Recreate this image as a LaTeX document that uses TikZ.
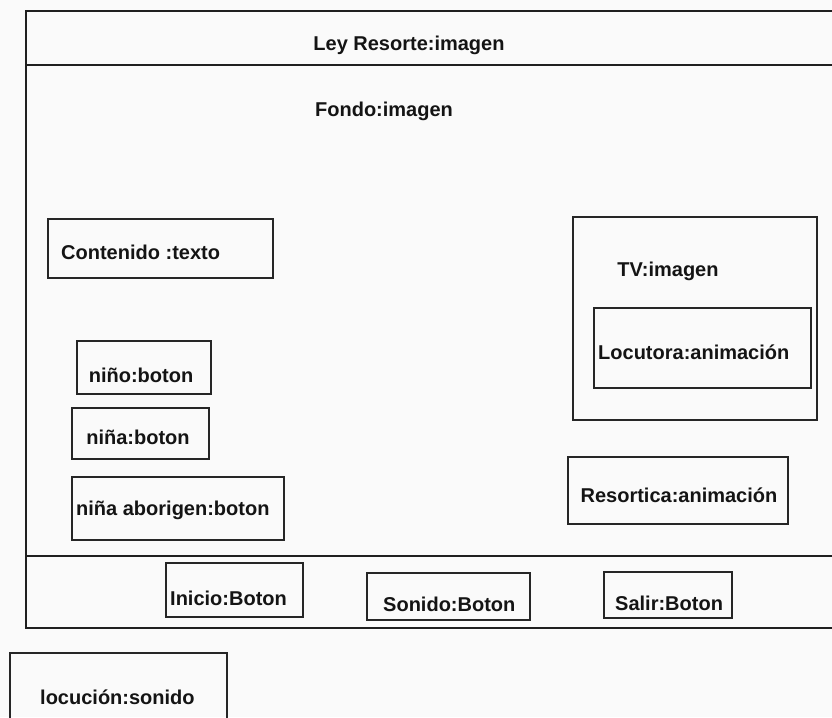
\documentclass[tikz,border=0pt]{standalone}
\usepackage{fontspec}
\setmainfont{Liberation Sans}
\begin{document}
\begin{tikzpicture}[x=1pt,y=-1pt,
  frameline/.style={draw=black!88, line width=2.6pt},
  boxline/.style={draw=black!85, line width=2.3pt},
  lbl/.style={inner sep=0pt, font=\fontsize{20}{24}\selectfont\bfseries, text=black!92}]
  % canvas
  \fill[black!2] (0,0) rectangle (832,717);
  \useasboundingbox (0,0) rectangle (832,717);

  % screen frame with header and footer bands
  \draw[frameline] (26,11) rectangle (840,628);
  \draw[frameline] (26,65) -- (840,65);
  \draw[frameline] (26,556) -- (840,556);

  % header and background
  \node[lbl, anchor=base] (ley) at (409,51) {Ley Resorte:imagen};
  \node[lbl, anchor=base] (fondo) at (384,116) {Fondo:imagen};

  % content text box
  \draw[boxline] (48,219) rectangle (273,278);
  \node[lbl, anchor=base west] (contenido) at (61,259) {Contenido :texto};

  % character buttons
  \draw[boxline] (77,341) rectangle (211,394);
  \node[lbl, anchor=base] (nino) at (141,382) {niño:boton};
  \draw[boxline] (72,408) rectangle (209,459);
  \node[lbl, anchor=base] (nina) at (138,444) {niña:boton};
  \draw[boxline] (72,477) rectangle (284,540);
  \node[lbl, anchor=base west] (aborigen) at (76,515) {niña aborigen:boton};

  % TV with the announcer animation
  \draw[boxline] (573,217) rectangle (817,420);
  \node[lbl, anchor=base] (tv) at (668,276) {TV:imagen};
  \draw[boxline] (594,308) rectangle (811,388);
  \node[lbl, anchor=base west] (locutora) at (598,359) {Locutora:animación};

  % spring animation
  \draw[boxline] (568,457) rectangle (788,524);
  \node[lbl, anchor=base] (resortica) at (679,502) {Resortica:animación};

  % footer buttons
  \draw[boxline] (166,563) rectangle (303,617);
  \node[lbl, anchor=base west] (inicio) at (170,605) {Inicio:Boton};
  \draw[boxline] (367,573) rectangle (530,620);
  \node[lbl, anchor=base west] (sonido) at (383,611) {Sonido:Boton};
  \draw[boxline] (604,572) rectangle (732,618);
  \node[lbl, anchor=base west] (salir) at (615,610) {Salir:Boton};

  % narration sound, outside the screen
  \draw[boxline] (10,653) rectangle (227,724);
  \node[lbl, anchor=base west] (locucion) at (40,704) {locución:sonido};
\end{tikzpicture}
\end{document}
